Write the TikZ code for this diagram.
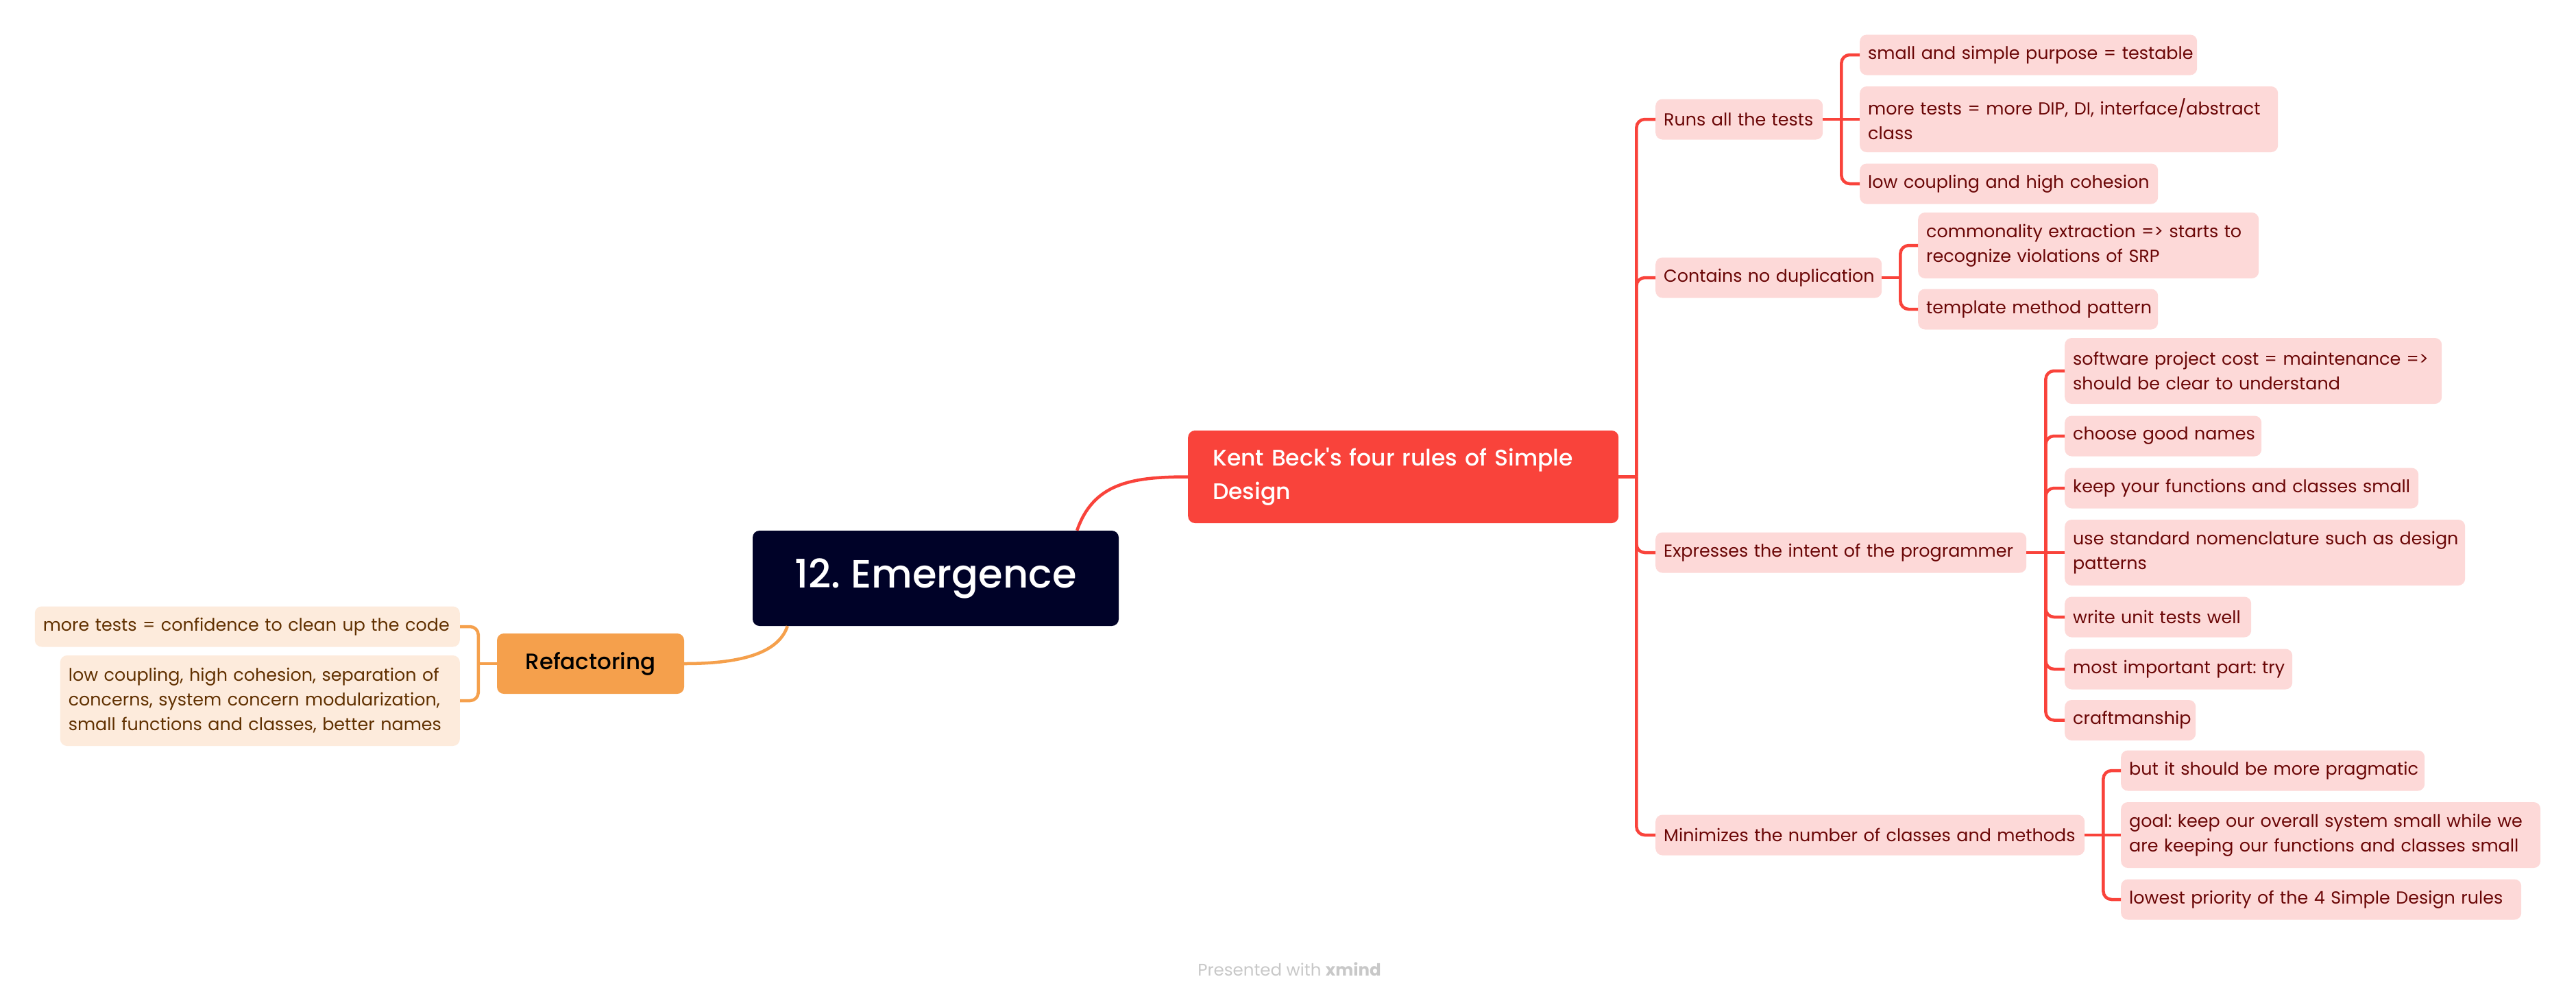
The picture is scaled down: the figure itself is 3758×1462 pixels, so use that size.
\documentclass[tikz,border=0pt]{standalone}
\usepackage{fontspec}
\setmainfont{Poppins}
\newfontfamily\pmed{Poppins}[UprightFont=* Medium]
\frenchspacing
\newcommand\tl[1]{\mbox{#1}}
\definecolor{navy}{RGB}{0,2,40}
\definecolor{kred}{RGB}{249,67,59}
\definecolor{pinkf}{RGB}{253,217,216}
\definecolor{dred}{RGB}{106,6,6}
\definecolor{orng}{RGB}{245,160,76}
\definecolor{orgf}{RGB}{253,235,220}
\definecolor{brwn}{RGB}{96,48,0}
\definecolor{foot}{RGB}{200,200,200}
\begin{document}
\begin{tikzpicture}[x=1pt,y=-1pt,
  box/.style={rectangle, rounded corners=10pt, inner xsep=12pt, inner ysep=0pt, align=left},
  pleaf/.style={box, anchor=west, fill=pinkf, text=dred, font=\fontsize{25.4}{36}\selectfont, minimum height=59pt},
  oleaf/.style={box, anchor=east, fill=orgf, text=brwn, font=\fontsize{25.4}{36}\selectfont, minimum height=59pt},
  rline/.style={draw=kred, line width=4.5pt, rounded corners=12pt},
  oline/.style={draw=orng, line width=4.5pt, rounded corners=12pt},
]
\fill[white] (0,0) rectangle (3758,1462);
\useasboundingbox (0,0) rectangle (3758,1462);

% central
\node[rectangle, rounded corners=10pt, fill=navy, text=white, minimum width=534pt, minimum height=139pt, font=\pmed\fontsize{57.5}{70}\selectfont] (central) at (1365,843.5) {12. Emergence};

% Kent Beck
\node[box, anchor=west, fill=kred, text=white, inner xsep=36pt, text width=556pt, minimum height=135pt, font=\pmed\fontsize{33}{49}\selectfont] (kent) at (1733,695.5) {\tl{Kent Beck\char39s four rules of Simple}\\\tl{Design}};

% Refactoring
\node[rectangle, rounded corners=10pt, fill=orng, text=black, minimum width=273pt, minimum height=88pt, font=\pmed\fontsize{32.5}{40}\selectfont] (ref) at (861.5,968) {Refactoring};

\node[oleaf, text width=596pt] (f1) at (671,914) {\tl{more tests = confidence to clean up the code}};
\node[oleaf, text width=559pt, minimum height=132pt] (f2) at (671,1022) {\tl{low coupling, high cohesion, separation of}\\\tl{concerns, system concern modularization,}\\\tl{small functions and classes, better names}};

% level 2
\node[pleaf, text width=220pt] (run) at (2415,174) {\tl{Runs all the tests}};
\node[pleaf, text width=306pt] (dup) at (2415,405) {\tl{Contains no duplication}};
\node[pleaf, text width=517pt] (exp) at (2415,806) {\tl{Expresses the intent of the programmer}};
\node[pleaf, text width=602pt] (min) at (2415,1218) {\tl{Minimizes the number of classes and methods}};

% leaves
\node[pleaf, text width=468pt] (r1) at (2713,80) {\tl{small and simple purpose = testable}};
\node[pleaf, text width=586pt, minimum height=96pt] (r2) at (2713,174) {\tl{more tests = more DIP, DI, interface/abstract}\\\tl{class}};
\node[pleaf, text width=411pt] (r3) at (2713,268) {\tl{low coupling and high cohesion}};

\node[pleaf, text width=473pt, minimum height=96pt] (d1) at (2798,358) {\tl{commonality extraction => starts to}\\\tl{recognize violations of SRP}};
\node[pleaf, text width=326pt] (d2) at (2798,451) {\tl{template method pattern}};

\node[pleaf, text width=526pt, minimum height=96pt] (e1) at (3012,541) {\tl{software project cost = maintenance =>}\\\tl{should be clear to understand}};
\node[pleaf, text width=263pt] (e2) at (3012,636) {\tl{choose good names}};
\node[pleaf, text width=492pt] (e3) at (3012,712) {\tl{keep your functions and classes small}};
\node[pleaf, text width=560pt, minimum height=96pt] (e4) at (3012,806) {\tl{use standard nomenclature such as design}\\\tl{patterns}};
\node[pleaf, text width=248pt] (e5) at (3012,900) {\tl{write unit tests well}};
\node[pleaf, text width=308pt] (e6) at (3012,976) {\tl{most important part: try}};
\node[pleaf, text width=167pt] (e7) at (3012,1050.5) {\tl{craftmanship}};

\node[pleaf, text width=419pt] (m1) at (3094,1124) {\tl{but it should be more pragmatic}};
\node[pleaf, text width=588pt, minimum height=96pt] (m2) at (3094,1218) {\tl{goal: keep our overall system small while we}\\\tl{are keeping our functions and classes small}};
\node[pleaf, text width=560pt] (m3) at (3094,1312) {\tl{lowest priority of the 4 Simple Design rules}};

% connectors: central
\draw[draw=kred, line width=4.5pt] ([xshift=-61pt]central.north east) .. controls (1595,705) and (1650,695.5) .. (kent.west);
\draw[draw=orng, line width=4.5pt] ([xshift=51pt]central.south west) .. controls (1135,955) and (1075,968) .. (ref.east);

% kent spine
\coordinate (ks) at ([xshift=26pt]kent.east);
\draw[rline] (kent.east) -- (ks);
\draw[rline] (ks) |- (run.west);
\draw[rline] (ks) |- (dup.west);
\draw[rline] (ks) |- (exp.west);
\draw[rline] (ks) |- (min.west);

% run
\coordinate (rs) at ([xshift=27pt]run.east);
\draw[rline] (run.east) -- (r2.west);
\draw[rline] (rs) |- (r1.west);
\draw[rline] (rs) |- (r3.west);

% dup
\coordinate (ds) at ([xshift=27pt]dup.east);
\draw[rline] (dup.east) -- (ds);
\draw[rline] (ds) |- (d1.west);
\draw[rline] (ds) |- (d2.west);

% exp
\coordinate (es) at ([xshift=28pt]exp.east);
\draw[rline] (exp.east) -- (e4.west);
\draw[rline] (es) |- (e1.west);
\draw[rline] (es) |- (e2.west);
\draw[rline] (es) |- (e3.west);
\draw[rline] (es) |- (e5.west);
\draw[rline] (es) |- (e6.west);
\draw[rline] (es) |- (e7.west);

% min
\coordinate (ms) at ([xshift=27pt]min.east);
\draw[rline] (min.east) -- (m2.west);
\draw[rline] (ms) |- (m1.west);
\draw[rline] (ms) |- (m3.west);

% refactoring
\coordinate (fs) at ([xshift=-27pt]ref.west);
\draw[oline] (ref.west) -- (fs);
\draw[oline] (fs) |- (f1.east);
\draw[oline] (fs) |- (f2.east);

% footer
\node[text=foot, font=\fontsize{24.5}{30}\selectfont] (ft) at (1881,1414) {Presented with \textbf{xmind}};
\end{tikzpicture}
\end{document}
